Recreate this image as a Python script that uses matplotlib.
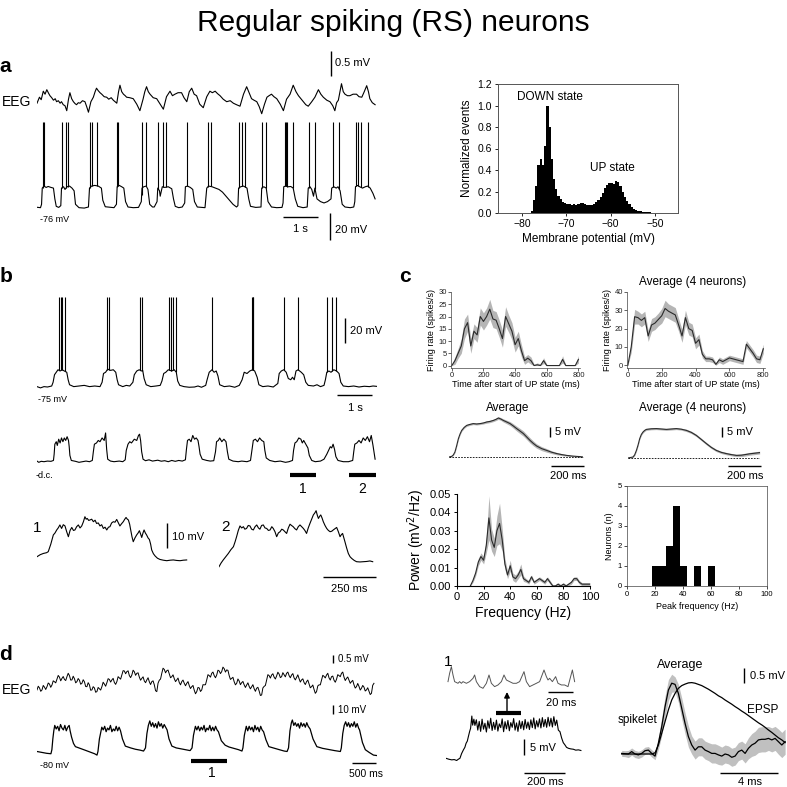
import numpy as np
import matplotlib
matplotlib.use('Agg')
import matplotlib.pyplot as plt

plt.rcParams['font.family'] = ['Liberation Sans', 'DejaVu Sans']
plt.rcParams['axes.linewidth'] = 0.6

W = H = 787

# ======================= DATA =======================
# --- a: membrane potential histogram (0.5 mV bins, left edges) ---
hist_a_left = np.arange(-78.0, -47.0, 0.5)
hist_a_vals = [0.02, 0.12, 0.25, 0.45, 0.50, 0.45, 0.62, 1.00, 0.80, 0.50,
               0.32, 0.22, 0.16, 0.13, 0.10, 0.09, 0.08, 0.08, 0.07, 0.08,
               0.07, 0.08, 0.09, 0.09, 0.08, 0.07, 0.07, 0.07, 0.08, 0.10,
               0.12, 0.15, 0.19, 0.23, 0.26, 0.28, 0.28, 0.27, 0.30, 0.29,
               0.25, 0.20, 0.15, 0.11, 0.08, 0.06, 0.04, 0.03, 0.02, 0.015,
               0.01, 0.008, 0.006, 0.005, 0.004, 0.003, 0.003, 0.002, 0.002, 0.001,
               0.001, 0.0]

# --- a: EEG (s, mV) ---
a_eeg = [(0.00, -0.03), (0.07, 0.09), (0.12, 0.04), (0.18, 0.21), (0.23, 0.15), (0.28, 0.24),
         (0.33, 0.17), (0.37, 0.12), (0.42, 0.08), (0.47, 0.03), (0.52, 0.06), (0.56, 0.0),
         (0.61, 0.02), (0.66, -0.03), (0.70, 0.0), (0.75, -0.06), (0.80, -0.08), (0.85, -0.18),
         (0.90, 0.05), (0.94, 0.18), (0.99, 0.06), (1.04, 0.0), (1.09, -0.04), (1.13, -0.06),
         (1.18, -0.02), (1.23, -0.03), (1.30, 0.02), (1.37, 0.0), (1.42, -0.1), (1.47, -0.21),
         (1.54, 0.0), (1.61, 0.09), (1.66, 0.2), (1.70, 0.27), (1.75, 0.22), (1.80, 0.18),
         (1.85, 0.15), (1.92, 0.1), (1.99, 0.09), (2.05, 0.05), (2.12, 0.08), (2.18, 0.03),
         (2.23, 0.0), (2.28, -0.03), (2.33, 0.2), (2.37, 0.33), (2.42, 0.2), (2.47, 0.15),
         (2.52, 0.12), (2.56, 0.09), (2.65, 0.08), (2.75, 0.06), (2.85, -0.05), (2.94, -0.18),
         (3.03, 0.05), (3.08, 0.2), (3.13, 0.3), (3.18, 0.2), (3.23, 0.15), (3.32, 0.08),
         (3.42, 0.06), (3.52, -0.05), (3.61, -0.15), (3.70, 0.1), (3.80, 0.21), (3.87, 0.12),
         (3.94, 0.15), (4.03, 0.18), (4.13, 0.18), (4.20, 0.08), (4.28, 0.0), (4.35, 0.2),
         (4.42, 0.27), (4.49, 0.15), (4.56, 0.12), (4.65, -0.05), (4.75, -0.12), (4.85, 0.1),
         (4.94, 0.21), (5.01, 0.18), (5.09, 0.21), (5.16, 0.16), (5.23, 0.12), (5.32, 0.05),
         (5.42, 0.0), (5.52, 0.02), (5.61, -0.03), (5.70, -0.06), (5.80, -0.09), (5.90, 0.15),
         (5.99, 0.3), (6.06, 0.18), (6.13, 0.06), (6.20, 0.03), (6.28, 0.0), (6.35, -0.1),
         (6.42, -0.24), (6.50, -0.05), (6.57, 0.09), (6.63, 0.12), (6.70, 0.15), (6.77, 0.1),
         (6.85, 0.06), (6.95, -0.05), (7.04, -0.18), (7.13, 0.05), (7.23, 0.15), (7.32, 0.33),
         (7.40, 0.2), (7.47, 0.12), (7.54, 0.06), (7.61, 0.0), (7.68, -0.06), (7.75, -0.09),
         (7.85, 0.0), (7.94, 0.09), (8.04, 0.24), (8.11, 0.15), (8.18, 0.09), (8.28, 0.03),
         (8.37, 0.0), (8.45, -0.08), (8.51, -0.18), (8.56, -0.02), (8.61, 0.03), (8.70, 0.36),
         (8.75, 0.2), (8.80, 0.15), (8.87, 0.12), (8.94, 0.12), (9.03, 0.15), (9.13, 0.15),
         (9.20, 0.1), (9.28, 0.09), (9.35, 0.2), (9.42, 0.32), (9.47, 0.2), (9.51, 0.06),
         (9.58, -0.02), (9.66, -0.06)]

# --- a: intracellular Vm (s, mV) and spikes ---
a_vm = [(0.00, -76.2), (0.10, -76.5), (0.13, -74), (0.15, -62), (0.20, -60.5), (0.26, -61.5),
        (0.32, -60.8), (0.40, -61.5), (0.47, -62), (0.51, -70), (0.55, -75.5), (0.62, -76.3),
        (0.68, -75), (0.70, -62), (0.76, -61), (0.80, -63), (0.86, -61), (0.93, -60.5),
        (1.00, -62), (1.06, -64), (1.10, -74), (1.20, -76.5), (1.35, -76.8), (1.47, -76),
        (1.50, -62), (1.56, -60.5), (1.65, -60), (1.75, -60.5), (1.84, -62), (1.88, -71),
        (1.95, -75.8), (2.10, -76.2), (2.20, -76.5), (2.27, -74), (2.29, -61), (2.35, -60),
        (2.42, -61), (2.48, -62), (2.53, -72), (2.60, -76), (2.75, -76.5), (2.90, -76.3),
        (2.98, -72), (3.00, -62), (3.05, -61), (3.12, -60.5), (3.17, -63), (3.22, -74),
        (3.30, -76), (3.35, -76), (3.43, -72), (3.45, -62), (3.50, -64), (3.52, -68),
        (3.58, -61), (3.65, -61.5), (3.75, -61), (3.85, -62.5), (3.90, -70), (3.95, -75.5),
        (4.05, -76.5), (4.15, -76), (4.22, -73), (4.24, -61), (4.30, -60.5), (4.38, -61.5),
        (4.45, -63), (4.50, -72), (4.58, -76), (4.70, -76.3), (4.80, -76.5), (4.85, -62),
        (4.90, -60.5), (5.00, -61), (5.10, -62), (5.20, -63), (5.30, -65), (5.40, -68),
        (5.50, -71), (5.60, -74), (5.70, -76), (5.74, -75), (5.76, -62), (5.82, -61),
        (5.90, -60.5), (6.00, -62), (6.05, -70), (6.10, -75.5), (6.25, -76.3), (6.40, -76),
        (6.42, -62), (6.48, -61), (6.55, -62), (6.60, -72), (6.70, -76), (6.85, -76.5),
        (7.00, -76.3), (7.03, -73), (7.05, -61), (7.10, -60.5), (7.18, -61), (7.25, -60.8),
        (7.32, -62), (7.38, -70), (7.45, -75.5), (7.60, -76.5), (7.72, -76), (7.75, -62),
        (7.80, -61), (7.85, -63), (7.90, -68), (7.94, -62), (8.00, -70), (8.10, -72),
        (8.20, -73), (8.30, -72), (8.40, -70), (8.42, -62), (8.48, -61), (8.55, -62),
        (8.60, -61), (8.66, -64), (8.72, -74), (8.80, -76), (8.95, -76.5), (9.05, -76),
        (9.08, -72), (9.10, -61), (9.16, -60), (9.22, -61), (9.30, -62), (9.38, -61),
        (9.45, -60.5), (9.52, -62), (9.60, -66), (9.66, -70)]
a_spike_t = [0.162, 0.21, 0.705, 0.829, 0.876, 1.514, 1.562, 1.705, 2.295, 2.324, 2.99, 3.105,
             3.448, 3.61, 3.676, 4.276, 4.876, 4.962, 5.781, 5.867, 5.943, 6.438, 6.533,
             7.086, 7.114, 7.152, 7.305, 7.771, 7.943, 8.448, 8.629, 9.114, 9.181, 9.248, 9.467]
a_spike_peak = -13.0

# --- b: intracellular Vm (s, mV) and spikes ---
b_vm = [(0.0, -75.5), (0.1, -76.5), (0.2, -75.5), (0.3, -75.8), (0.42, -75), (0.46, -72), (0.50, -66),
        (0.55, -64), (0.60, -62), (0.66, -63), (0.72, -62), (0.78, -63), (0.85, -64), (0.89, -70),
        (0.93, -74), (1.05, -75.5), (1.2, -75), (1.35, -74.5), (1.5, -75.5), (1.65, -75), (1.8, -75.5),
        (1.86, -72), (1.90, -65), (1.96, -64), (2.02, -61.5), (2.10, -62.5), (2.18, -62), (2.25, -64),
        (2.29, -70), (2.33, -74), (2.45, -75.5), (2.55, -74.5), (2.65, -75), (2.74, -72), (2.78, -66),
        (2.85, -63), (2.92, -62), (2.98, -63), (3.02, -62.5), (3.06, -69), (3.12, -74), (3.25, -75.5),
        (3.40, -75), (3.52, -74.5), (3.57, -71), (3.62, -65), (3.68, -64), (3.75, -62), (3.85, -63),
        (3.92, -62), (3.98, -64), (4.02, -71), (4.08, -74.5), (4.2, -75.5), (4.35, -76), (4.5, -75.8),
        (4.6, -75), (4.7, -76), (4.82, -74.5), (4.86, -70), (4.92, -64), (5.00, -62), (5.06, -64),
        (5.12, -63), (5.17, -67), (5.22, -74), (5.35, -75.5), (5.5, -75), (5.65, -76), (5.78, -74.5),
        (5.86, -70), (5.92, -64), (6.00, -65), (6.08, -63), (6.16, -62), (6.22, -63), (6.29, -68),
        (6.34, -74), (6.45, -75.5), (6.6, -75), (6.75, -75.8), (6.88, -73), (6.92, -65), (6.98, -63),
        (7.05, -62), (7.12, -64), (7.18, -69), (7.25, -70), (7.30, -68), (7.35, -70), (7.40, -63),
        (7.46, -62), (7.55, -64), (7.62, -66), (7.68, -72), (7.75, -74.5), (7.9, -75), (8.0, -74),
        (8.1, -75.5), (8.2, -74.5), (8.24, -70), (8.28, -64), (8.34, -63), (8.40, -64), (8.48, -62),
        (8.56, -63), (8.63, -65), (8.68, -72), (8.75, -75), (8.9, -75.5), (9.05, -75), (9.2, -75.8),
        (9.35, -75.2), (9.5, -75.5), (9.6, -75), (9.71, -75.3)]
b_spike_t = [0.63, 0.69, 0.71, 0.80, 2.0, 2.06, 2.94, 3.0, 3.77, 3.83, 3.89, 3.97, 5.0,
             6.14, 6.16, 6.17, 7.06, 7.46, 8.29, 8.43, 8.54]
b_spike_peak = -4.0

# --- b: hyperpolarized (-d.c.) trace (s, mV rel.) ---
b_dc = [(0.0, 0.5), (0.05, -0.5), (0.12, 0.3), (0.2, 0), (0.3, 0.5), (0.4, 0.3), (0.47, 1), (0.49, 6),
        (0.51, 14), (0.55, 16), (0.58, 13), (0.62, 18), (0.66, 15), (0.70, 19), (0.74, 16), (0.78, 19),
        (0.82, 17), (0.86, 20), (0.90, 17), (0.92, 12), (0.94, 5), (0.98, 1), (1.1, 0.3), (1.2, -0.5),
        (1.3, 0), (1.4, 0.5), (1.5, 0), (1.58, 1), (1.61, 8), (1.64, 14), (1.70, 15), (1.75, 17),
        (1.80, 16), (1.86, 19), (1.92, 17), (1.96, 23), (1.99, 10), (2.02, 2), (2.1, 0.5), (2.2, 0),
        (2.35, 0.5), (2.45, 0), (2.52, 1.5), (2.55, 9), (2.60, 14), (2.65, 16), (2.70, 15), (2.78, 18),
        (2.85, 17), (2.90, 21), (2.93, 22), (2.96, 17), (2.99, 8), (3.03, 2), (3.1, 0.8), (3.2, 1.5),
        (3.3, 0.5), (3.45, 1.2), (3.55, 0.4), (3.65, 0.8), (3.75, 0), (3.85, 1), (3.95, 0.3), (4.05, 1),
        (4.15, 0.5), (4.24, 1.5), (4.27, 10), (4.30, 17), (4.35, 18), (4.40, 16), (4.45, 21), (4.50, 18),
        (4.55, 19), (4.60, 17), (4.63, 12), (4.66, 6), (4.72, 2), (4.85, 1), (4.95, 0.5), (5.05, 0.8),
        (5.10, 8), (5.13, 16), (5.18, 17), (5.22, 19), (5.28, 16), (5.34, 18), (5.40, 16), (5.44, 8),
        (5.48, 2), (5.6, 0.5), (5.75, 0), (5.85, 0.5), (6.0, 0), (6.1, 1), (6.14, 9), (6.18, 17),
        (6.24, 18), (6.30, 16), (6.36, 19), (6.42, 17), (6.48, 16), (6.51, 9), (6.55, 3), (6.65, 1),
        (6.8, 0), (6.95, 0.5), (7.1, -0.5), (7.2, 0), (7.3, 1), (7.33, 9), (7.37, 15), (7.42, 16),
        (7.48, 19), (7.54, 18), (7.58, 15), (7.62, 17), (7.68, 14), (7.74, 11), (7.78, 5), (7.85, 1),
        (7.95, 0), (8.1, 0.5), (8.2, 2), (8.28, 6), (8.33, 9), (8.38, 12), (8.42, 11), (8.46, 14),
        (8.50, 10), (8.54, 4), (8.6, 1), (8.75, 0), (8.9, 0), (9.02, 1), (9.05, 8), (9.08, 14),
        (9.14, 15), (9.20, 17), (9.26, 15), (9.32, 19), (9.38, 17), (9.44, 20), (9.50, 16), (9.55, 21),
        (9.60, 13), (9.66, 2)]

# --- b: expanded UP states 1 and 2 (ms, mV rel.) ---
b_up1 = [(0, 0), (15, 0.8), (30, 1.3), (45, 1.6), (53, 2), (65, 5), (77, 8.7), (85, 9.5), (93, 10.7),
         (100, 11.5), (108, 12.7), (116, 11.3), (124, 12.8), (132, 12.3), (140, 10), (148, 8),
         (156, 10.5), (164, 11.7), (172, 10.5), (179, 10.7), (187, 12), (195, 12.7), (203, 11.5),
         (211, 12.3), (219, 14), (226, 16), (232, 15), (237, 15.3), (244, 14.5), (250, 14.7),
         (258, 15), (266, 14), (274, 14.6), (281, 13.3), (289, 13.5), (297, 12.3), (305, 12.8),
         (313, 11.3), (321, 11.8), (329, 10.7), (337, 11.8), (344, 12), (352, 13.5), (360, 14),
         (368, 13.8), (376, 14.9), (384, 13.5), (391, 12.3), (399, 13.2), (407, 14), (414, 15),
         (420, 15.7), (426, 15), (431, 14.7), (437, 13), (442, 10.7), (448, 8), (454, 6),
         (462, 7.5), (470, 8.7), (477, 9.5), (483, 10.4), (489, 9), (494, 7.7), (500, 9.5),
         (505, 10.7), (511, 9.5), (517, 8.7), (524, 7.5), (530, 6.9), (536, 5), (541, 2.7),
         (549, 1.2), (557, 0.3), (568, -0.6), (580, -1.1), (596, -1.4), (612, -1.6), (628, -1.4),
         (643, -1.3), (659, -1.5), (675, -1.6), (690, -1.4), (706, -1.3)]
b_up2 = [(0, 0), (10, 1.5), (20, 2.7), (32, 4), (44, 5.3), (56, 6.8), (68, 8), (76, 10), (83, 12),
         (91, 14.5), (99, 16.3), (107, 15.5), (115, 16), (122, 15), (130, 15.3), (138, 16.5),
         (146, 16.3), (154, 15), (162, 14.7), (170, 16), (178, 16.7), (186, 15.5), (193, 15),
         (201, 16.5), (209, 16.7), (217, 15.5), (225, 15.3), (233, 14.5), (241, 14.7), (249, 16),
         (256, 15.3), (264, 14), (272, 12), (280, 13.5), (288, 14), (296, 15), (303, 14.7),
         (311, 14), (319, 13.3), (327, 15.5), (335, 17), (342, 16.5), (350, 16), (358, 15.2),
         (366, 14.7), (374, 16), (382, 16.7), (390, 16), (398, 15.3), (405, 14.5), (413, 13.3),
         (421, 15.5), (429, 17.3), (437, 19), (445, 20.7), (452, 21.5), (458, 22.4), (464, 20.5),
         (469, 19.3), (475, 20.2), (480, 20.7), (486, 19.5), (492, 18), (500, 16.5), (508, 15.3),
         (516, 14.5), (524, 14), (532, 14.2), (539, 14.7), (547, 15.2), (555, 15.7), (563, 14),
         (571, 12), (577, 12.8), (583, 13.3), (589, 11.5), (594, 10), (602, 7.5), (610, 5.3),
         (618, 4), (626, 3.3), (638, 2.5), (649, 2), (665, 1.9), (681, 2), (697, 2.1), (712, 2.3),
         (725, 2)]

# --- c: firing rate vs time after UP onset (ms, spikes/s, s.e.m.) ---
fr_time = np.arange(0, 801, 20)
fr_single = [0, 2, 5, 8, 15, 17.5, 8, 14, 12.5, 20, 18, 20, 23, 19, 18.5, 15, 11, 20, 17, 14,
             8.5, 11, 6, 2, 3, 2, 0, 0.3, 0, 2, 0, 0, 0, 0, 0, 2.5, 0, 0, 0, 0, 2.5]
fr_single_sem = [0.5, 1.5, 2, 3, 4, 3.5, 3, 3, 3, 3.5, 3.5, 3.5, 4, 3.5, 3.5, 3.5, 3.5, 4, 3.5, 3.5,
                 3, 3, 2.5, 1.5, 1.5, 1.5, 0.5, 0.8, 0.5, 1.2, 0.5, 0.3, 0.3, 0.3, 0.3, 1.5, 0.3, 0.3,
                 0.3, 0.3, 1.5]
fr_avg = [0, 10, 26.5, 26, 24.5, 26, 16, 22, 23, 25, 27, 31, 29.5, 28.5, 27.5, 22, 16, 26, 20, 19,
          12, 14, 6, 3.5, 3.5, 3, 0.5, 3, 2, 3, 4, 3.5, 3, 2.5, 2, 11.5, 9, 6.5, 3.5, 3, 9]
fr_avg_sem = [0.5, 3, 4, 3.5, 3.5, 3.5, 3, 3.5, 3.5, 3.5, 4, 4.5, 4, 4, 4, 3.5, 3.5, 4, 3.5, 3.5,
              3, 3, 2, 1.5, 1.5, 1.5, 1, 1.5, 1.5, 1.5, 1.5, 1.5, 1.5, 1.5, 1.5, 2, 2, 2, 2, 2, 2.5]

# --- c: average UP-state Vm (ms, mV above DOWN, s.e.m.) ---
avg_up_single = [(0, 0, 0.1), (16, 0.3, 0.2), (26, 1, 0.3), (36, 2.5, 0.4), (46, 5.5, 0.5), (57, 9.2, 0.5),
                 (67, 11.5, 0.5), (77, 13.3, 0.5), (92, 14.8, 0.5), (107, 15.8, 0.5), (127, 16.3, 0.5),
                 (147, 16.7, 0.5), (167, 16.5, 0.5), (188, 16.7, 0.5), (208, 17, 0.5), (228, 17.5, 0.6),
                 (249, 17.8, 0.6), (269, 18.3, 0.6), (284, 18.8, 0.6), (299, 19.5, 0.7), (314, 19, 0.7),
                 (329, 18.3, 0.8), (350, 17.5, 0.9), (370, 16.7, 1.0), (390, 15.5, 1.1), (410, 14.2, 1.2),
                 (430, 13, 1.3), (451, 11.7, 1.3), (471, 10, 1.3), (491, 8.3, 1.3), (511, 6.8, 1.2),
                 (531, 5.5, 1.1), (561, 4.2, 1.0), (592, 3.3, 0.9), (622, 2.4, 0.7), (653, 1.7, 0.6),
                 (683, 1.2, 0.5), (713, 0.8, 0.4), (744, 0.5, 0.3), (774, 0.3, 0.3), (794, 0.2, 0.2),
                 (814, 0, 0.2)]
avg_up_4 = [(0, 0, 0.1), (30, 0.5, 0.3), (40, 1.5, 0.4), (51, 3.8, 0.5), (61, 6.5, 0.5), (71, 9.7, 0.5),
            (81, 11.8, 0.5), (91, 13, 0.5), (101, 13.8, 0.5), (111, 14.3, 0.5), (141, 14.6, 0.5),
            (172, 14.7, 0.5), (202, 14.5, 0.5), (232, 14.3, 0.5), (263, 14.5, 0.5), (293, 14.7, 0.5),
            (323, 14.4, 0.5), (354, 13.8, 0.6), (384, 12.8, 0.6), (414, 11.3, 0.6), (444, 9.3, 0.6),
            (475, 7.2, 0.6), (505, 5.3, 0.6), (535, 3.8, 0.6), (566, 2.8, 0.6), (596, 2.2, 0.6),
            (626, 1.7, 0.6), (657, 1.3, 0.6), (687, 1.4, 0.7), (717, 1.8, 0.7), (738, 2.1, 0.7),
            (758, 2.3, 0.7), (778, 2.5, 0.7), (798, 2.7, 0.7)]

# --- c: power spectrum (Hz, mV^2/Hz, s.e.m.) ---
pw_freq = np.arange(10, 101, 2)
pw_mean = [0.0, 0.003, 0.007, 0.013, 0.016, 0.014, 0.022, 0.037, 0.025, 0.021, 0.030, 0.034, 0.025,
           0.012, 0.006, 0.011, 0.005, 0.004, 0.006, 0.009, 0.004, 0.003, 0.002, 0.005, 0.002, 0.003,
           0.004, 0.003, 0.002, 0.004, 0.002, 0.0, 0.0, 0.001, 0.0, 0.001, 0.0, 0.001, 0.002, 0.004,
           0.004, 0.002, 0.001, 0.001, 0.001, 0.001]
pw_sem = [0.0005, 0.001, 0.0015, 0.002, 0.002, 0.002, 0.004, 0.012, 0.006, 0.005, 0.008, 0.011, 0.006,
          0.003, 0.002, 0.003, 0.002, 0.002, 0.002, 0.003, 0.0015, 0.001, 0.001, 0.001, 0.001, 0.001,
          0.001, 0.001, 0.001, 0.001, 0.001, 0.0008, 0.0008, 0.0008, 0.0008, 0.0008, 0.0008, 0.0008,
          0.001, 0.001, 0.001, 0.001, 0.0008, 0.0008, 0.0008, 0.0008]

# --- c: peak frequency histogram ---
peak_freq_centers = [20, 25, 30, 35, 40, 50, 60]
peak_freq_counts = [1, 1, 2, 4, 1, 1, 1]

# --- d: EEG (regular 0.026 s sampling, mV) ---
d_eeg_dt = 0.026
d_eeg = [-0.43, -0.19, -0.3, -0.52, -0.43, -0.14, -0.25, -0.4, -0.22, 0.02,
         -0.05, -0.26, -0.11, 0.16, 0.1, 0.03, 0.26, 0.51, 0.4, 0.16,
         0.32, 0.44, 0.25, 0.18, 0.43, 0.65, 0.5, 0.21, 0.22, 0.46,
         0.3, 0.03, 0.11, 0.31, 0.2, -0.06, 0.0, 0.23, 0.1, -0.21,
         -0.22, 0.04, -0.1, -0.45, -0.43, -0.22, -0.3, -0.58, -0.54, -0.27,
         -0.35, -0.44, -0.22, 0.07, -0.05, -0.19, 0.04, 0.3, 0.25, 0.08,
         0.22, 0.32, 0.05, -0.07, 0.11, 0.43, 0.35, 0.27, 0.54, 0.82,
         0.8, 0.62, 0.76, 0.81, 0.5, 0.37, 0.54, 0.85, 0.75, 0.52,
         0.65, 0.68, 0.4, 0.2, 0.32, 0.42, 0.15, 0.04, 0.22, 0.36,
         0.1, -0.08, 0.11, 0.16, -0.1, -0.48, -0.54, 0.01, 0.2, 0.28,
         0.65, 0.98, 0.9, 0.68, 0.82, 0.86, 0.6, 0.36, 0.43, 0.55,
         0.3, 0.11, 0.22, 0.34, 0.05, -0.1, 0.11, 0.21, 0.0, -0.16,
         0.0, 0.11, -0.15, -0.34, -0.22, -0.14, -0.45, -0.68, -0.54, -0.27,
         -0.3, -0.53, -0.43, -0.09, -0.1, -0.09, 0.22, 0.56, 0.5, 0.4,
         0.65, 0.73, 0.5, 0.36, 0.54, 0.85, 0.8, 0.63, 0.76, 1.05,
         0.95, 0.73, 0.87, 0.84, 0.5, 0.25, 0.32, 0.39, 0.1, -0.1,
         0.0, 0.28, 0.15, -0.09, 0.04, 0.12, -0.1, -0.27, -0.11, 0.03,
         -0.2, -0.36, -0.22, -0.09, -0.35, -0.52, -0.32, -0.26, -0.5, -0.79,
         -0.76, -0.3, -0.2, -0.14, 0.22, 0.56, 0.5, 0.34, 0.54, 0.62,
         0.4, 0.28, 0.48, 0.72, 0.6, 0.37, 0.43, 0.69, 0.55, 0.42,
         0.65, 0.73, 0.5, 0.36, 0.54, 0.63, 0.35, 0.22, 0.39, 0.55,
         0.3, 0.08, 0.22, 0.29, 0.05, -0.08, 0.11, 0.21, -0.05, -0.29,
         -0.22, -0.11, -0.4, -0.65, -0.54, -0.17, -0.1, -0.1, 0.22, 0.52,
         0.45, 0.35, 0.54, 0.65, 0.35, 0.21, 0.43, 0.47, 0.2, 0.07,
         0.26, 0.56, 0.5, 0.43, 0.65, 0.73, 0.4, 0.18, 0.32, 0.41,
         0.2, 0.0, 0.11, 0.19, -0.1, -0.31, -0.22, -0.01, -0.2, -0.44,
         -0.32, -0.14, -0.25, -0.5, -0.43, -0.29, -0.5, -0.73, -0.65, -0.13,
         0.0]

# --- d: intracellular Vm (s, mV) ---
d_vm = [(0.00, -78.0), (0.05, -78.5), (0.10, -79.0), (0.15, -79.5), (0.20, -80.0), (0.25, -80.3),
        (0.29, -80.5), (0.31, -76), (0.33, -64), (0.35, -55), (0.37, -49), (0.40, -53), (0.43, -50),
        (0.46, -55), (0.49, -48), (0.52, -52), (0.55, -54), (0.58, -49), (0.61, -55), (0.64, -51),
        (0.67, -49), (0.69, -55), (0.72, -62), (0.76, -69), (0.80, -72.6), (0.90, -74.5),
        (1.00, -76.5), (1.10, -78.5), (1.20, -80.5), (1.25, -82), (1.27, -78), (1.30, -64),
        (1.33, -56), (1.35, -51), (1.38, -54), (1.41, -50), (1.44, -56), (1.47, -52), (1.50, -54),
        (1.53, -49), (1.56, -56), (1.59, -53), (1.62, -55), (1.65, -50), (1.68, -55), (1.71, -51),
        (1.74, -55), (1.78, -64), (1.84, -72), (1.95, -74), (2.05, -75.5), (2.15, -76.5),
        (2.22, -77.5), (2.26, -74), (2.29, -58), (2.32, -49), (2.35, -44), (2.38, -50), (2.41, -46),
        (2.44, -51), (2.47, -47), (2.50, -52), (2.53, -45), (2.56, -50), (2.59, -47), (2.62, -52),
        (2.65, -48), (2.68, -51), (2.71, -54), (2.75, -64), (2.81, -72), (2.90, -74), (3.00, -75),
        (3.10, -76), (3.19, -77), (3.23, -74), (3.26, -60), (3.30, -50), (3.33, -54), (3.36, -50),
        (3.39, -55), (3.42, -51), (3.45, -54), (3.48, -49), (3.51, -56), (3.54, -52), (3.57, -54),
        (3.60, -49), (3.63, -55), (3.66, -51), (3.69, -55), (3.72, -50), (3.75, -54), (3.78, -56),
        (3.84, -66), (3.92, -71), (4.00, -73), (4.10, -74.5), (4.20, -76), (4.27, -77.5),
        (4.29, -74), (4.32, -60), (4.36, -50), (4.39, -55), (4.42, -50), (4.45, -54), (4.48, -51),
        (4.51, -56), (4.54, -49), (4.57, -54), (4.60, -51), (4.63, -56), (4.66, -50), (4.69, -54),
        (4.72, -56), (4.77, -65), (4.83, -72.6), (4.95, -74.5), (5.05, -76), (5.15, -77.5),
        (5.21, -78), (5.24, -74), (5.27, -55), (5.30, -46), (5.32, -43), (5.35, -49), (5.38, -46),
        (5.41, -50), (5.44, -47), (5.47, -52), (5.50, -46), (5.53, -50), (5.56, -47), (5.59, -51),
        (5.62, -46), (5.65, -50), (5.69, -53), (5.75, -64), (5.83, -72.6), (5.95, -74.5),
        (6.10, -76), (6.20, -77), (6.32, -78), (6.34, -74), (6.37, -58), (6.40, -49), (6.43, -45),
        (6.46, -50), (6.49, -46), (6.52, -51), (6.55, -47), (6.58, -50), (6.61, -45), (6.64, -51),
        (6.67, -47), (6.70, -52), (6.72, -54), (6.78, -68), (6.84, -76), (6.92, -79), (7.01, -82),
        (7.08, -82.5)]

# --- d: expanded UP state 1 (ms, mV rel.) ---
d_up_rise = [(0, 0), (14, -0.3), (28, -0.5), (40, -0.4), (52, -0.7), (60, -0.3), (68, 0), (76, 1.5),
             (85, 2.7), (92, 3.5), (98, 4.8), (104, 5.5), (109, 6.9), (115, 8.5), (120, 9.6),
             (126, 13.5), (130, 10.6), (136, 12.5)]
d_up_plateau_t0 = 141
d_up_plateau_dt = 7
d_up_plateau = [10.5, 12.3, 9.0, 11.8, 8.6, 12.5, 9.3, 11.2, 8.4, 12.0,
                9.6, 12.8, 8.9, 11.5, 9.2, 12.2, 8.7, 11.0, 9.8, 12.6,
                8.5, 11.7, 9.4, 12.1, 8.8, 11.4, 9.9, 12.7, 9.0, 11.3,
                8.6, 12.0, 9.5, 11.8, 9.1, 12.4, 9.6, 11.6, 9.2, 12.3,
                9.8, 12.9, 9.4, 12.0, 10.0, 12.6, 9.7, 13.0, 10.1, 12.4,
                9.9, 13.1, 10.3, 12.8, 10.0, 13.3, 10.5, 12.2]
d_up_fall = [(548, 9), (556, 8.5), (564, 6.5), (572, 5), (580, 4.3), (588, 3.5), (597, 3.2),
             (609, 3.0), (621, 2.9), (633, 2.6), (646, 2.7), (658, 2.5)]
# detail of the fast oscillation (ms, mV rel.)
d_fast = [(0, 0.5), (1.3, 3), (2.7, 5), (4, 2.5), (5.3, 0.5), (8, 0), (9.3, 0.5), (10.7, 0), (12, 0.5),
          (14.7, 0), (17.3, 0.5), (20, 1.5), (21.3, 2.5), (22.7, 0.5), (25.3, -1), (28, -1.5),
          (30.7, 0), (32.8, 2.5), (34.7, 0), (37.3, -1), (40, -0.5), (42.7, 0.5), (44.8, 2.5),
          (46.7, 1), (49.3, 0.5), (52, 0), (54.7, 0), (57.3, 0.5), (60.8, 3.5), (62.7, 0.5),
          (65.3, -1), (68, -0.5), (70.7, 0), (73.3, 0.5), (76.8, 4), (78.7, 2), (80, 1), (81.3, 1.5),
          (83.5, 0.5), (86.1, 2), (88, 0), (90.7, -0.5), (93.3, -0.5), (96, -1), (99.5, 4),
          (101.3, 0.5)]

# --- d: average spikelet vs EPSP (0.23 ms sampling, mV) ---
avg_dt = 0.23
spikelet = [0.02, 0.01, 0.0, 0.08, 0.0, -0.03, 0.02, 0.11, 0.13, 0.02,
            -0.07, 0.36, 0.91, 1.58, 2.13, 2.36, 2.32, 2.02, 1.52, 1.02,
            0.58, 0.30, 0.13, 0.24, 0.24, 0.13, 0.08, 0.02, 0.02, -0.03,
            -0.07, 0.0, -0.03, -0.11, -0.07, 0.08, 0.13, 0.02, 0.19, 0.30,
            0.36, 0.47, 0.49, 0.49, 0.52, 0.47, 0.52, 0.41, 0.30, 0.41]
spikelet_sem = [0.1, 0.1, 0.12, 0.12, 0.12, 0.12, 0.12, 0.12, 0.12, 0.12,
                0.12, 0.2, 0.3, 0.35, 0.35, 0.3, 0.25, 0.3, 0.35, 0.35,
                0.35, 0.3, 0.3, 0.3, 0.3, 0.3, 0.3, 0.32, 0.32, 0.32,
                0.3, 0.3, 0.3, 0.3, 0.3, 0.3, 0.3, 0.32, 0.35, 0.38,
                0.4, 0.42, 0.42, 0.42, 0.4, 0.4, 0.4, 0.42, 0.42, 0.42]
epsp = [0, 0, 0, 0, 0, 0, 0, 0, 0, 0,
        0.04, 0.3, 0.69, 1.08, 1.47, 1.8, 2.02, 2.19, 2.28, 2.33,
        2.37, 2.38, 2.36, 2.32, 2.28, 2.22, 2.16, 2.09, 2.02, 1.94,
        1.88, 1.8, 1.73, 1.66, 1.58, 1.51, 1.43, 1.36, 1.28, 1.2,
        1.12, 1.04, 0.97, 0.89, 0.8, 0.72, 0.63, 0.54, 0.47, 0.38]

# ======================= FIGURE =======================
fig = plt.figure(figsize=(7.87, 7.87), dpi=100)


def T(x, y, s, size, ha='left', va='center', **kw):
    fig.text(x / W, 1 - y / H, s, fontsize=size, ha=ha, va=va, **kw)


def box(x0, y0, x1, y1):
    return fig.add_axes([x0 / W, 1 - y1 / H, (x1 - x0) / W, (y1 - y0) / H])


def tax(x0, x1, y0, y1, xlim, ylim):
    ax = box(x0, y0, x1, y1)
    ax.set_xlim(*xlim)
    ax.set_ylim(*ylim)
    ax.set_axis_off()
    return ax


def P(ax, x, y):
    return ax.transData.inverted().transform((x, H - y))


def hbar(ax, x, y, length, lw=1.0):
    x0, y0 = P(ax, x, y)
    ax.plot([x0, x0 + length], [y0, y0], color='k', lw=lw, clip_on=False, solid_capstyle='butt')


def vbar(ax, x, y, length, lw=1.0):
    x0, y0 = P(ax, x, y)
    ax.plot([x0, x0], [y0, y0 - length], color='k', lw=lw, clip_on=False, solid_capstyle='butt')


def window(ax, y, t0, t1, lw=3):
    _, yy = P(ax, 0, y)
    ax.plot([t0, t1], [yy, yy], color='k', lw=lw, clip_on=False, solid_capstyle='butt')


def pairs(lst):
    arr = np.array(lst, dtype=float)
    return [arr[:, i] for i in range(arr.shape[1])]


TR = dict(color='k', lw=0.8)

# Title
T(393, 23, 'Regular spiking (RS) neurons', 21.5, ha='center')

# ---------------- panel a ----------------
T(5, 67, 'a', 15, ha='center', weight='bold')
T(2, 102, 'EEG', 10)
ax = tax(37, 377, 70, 130, (0, 340 / 35), (-(130 - 101.7) / 50, (101.7 - 70) / 50))
t, v = pairs(a_eeg)
ax.plot(t, v, **TR)
vbar(ax, 331, 51, 0.5)
T(335, 63, '0.5 mV', 8)

ax = tax(37, 377, 115, 245, (0, 340 / 35), (-76 - (245 - 207) / 1.35, -76 + (207 - 115) / 1.35))
t, v = pairs(a_vm)
ax.plot(t, v, **TR)
ax.vlines(a_spike_t, np.interp(a_spike_t, t, v), a_spike_peak, color='k', lw=0.8)
T(40, 219, '-76 mV', 6.5)
hbar(ax, 283, 217, 1.0)
T(300, 229, '1 s', 8, ha='center')
vbar(ax, 330, 213, 20)
T(335, 230, '20 mV', 8)

axh = box(498, 84, 678, 213)
axh.bar(hist_a_left, hist_a_vals, width=0.5, align='edge', color='k', lw=0)
axh.set_xlim(-85.4, -44.8)
axh.set_ylim(0, 1.2)
axh.set_xticks([-80, -70, -60, -50])
axh.set_yticks(np.arange(0, 1.21, 0.2))
axh.set_yticklabels([f'{x:.1f}' for x in np.arange(0, 1.21, 0.2)])
axh.tick_params(labelsize=7.5, length=2.5, width=0.6, pad=2)
for s in axh.spines.values():
    s.set_linewidth(0.7)
    s.set_color('#555555')
axh.set_ylabel('Normalized events', fontsize=8.5, labelpad=3)
axh.set_xlabel('Membrane potential (mV)', fontsize=8.5, labelpad=3)
axh.text(-73.7, 1.08, 'DOWN state', fontsize=8.5, ha='center', va='center')
axh.text(-59.5, 0.42, 'UP state', fontsize=8.5, ha='center', va='center')

# ---------------- panel b ----------------
T(6, 276, 'b', 15, ha='center', weight='bold')
ax = tax(37, 377, 290, 400, (0, 340 / 35), (-75 - 14 / 1.25, -75 + 96 / 1.25))
t, v = pairs(b_vm)
ax.plot(t, v, **TR)
ax.vlines(b_spike_t, np.interp(b_spike_t, t, v), b_spike_peak, color='k', lw=0.8)
vbar(ax, 345, 318, 20)
T(350, 331, '20 mV', 8)
T(38, 399, '-75 mV', 6.5)
hbar(ax, 337, 395, 1.0)
T(355, 408, '1 s', 8, ha='center')

ax = tax(37, 377, 425, 470, (0, 340 / 35), (-(470 - 461.7) / 1.25, (461.7 - 425) / 1.25))
t, v = pairs(b_dc)
ax.plot(t, v, **TR)
T(36, 475, '-d.c.', 6.5)
window(ax, 475, 7.23, 7.97)
window(ax, 475, 8.91, 9.69)
T(303, 489, '1', 10, ha='center')
T(362, 489, '2', 10, ha='center')

ax = tax(37, 190, 505, 565, (0, (190 - 37) / 0.212), (-(565 - 556.7) / 2.5, (556.7 - 505) / 2.5))
t, v = pairs(b_up1)
ax.plot(t, v, **TR)
T(33, 528, '1', 11)
vbar(ax, 167, 523, 10)
T(172, 537, '10 mV', 8)

ax = tax(219, 375, 505, 570, (0, (375 - 219) / 0.212), (-(570 - 566.7) / 2.5, (566.7 - 505) / 2.5))
t, v = pairs(b_up2)
ax.plot(t, v, **TR)
T(221, 527, '2', 11)
hbar(ax, 323, 577, 250)
T(349, 589, '250 ms', 8, ha='center')

# ---------------- panel c ----------------
T(405, 276, 'c', 15, ha='center', weight='bold')


def fr_axes(x0, x1, ylim, yticks, fr, sem):
    a = box(x0, 292, x1, 368)
    fr = np.array(fr)
    sem = np.array(sem)
    a.fill_between(fr_time, np.maximum(fr - sem, 0), fr + sem, color='#b5b5b5', lw=0)
    a.plot(fr_time, fr, color='#2a2a2a', lw=0.8)
    a.set_xlim(-5, 810)
    a.set_ylim(*ylim)
    a.set_xticks([0, 200, 400, 600, 800])
    a.set_yticks(yticks)
    for s in ['top', 'right']:
        a.spines[s].set_visible(False)
    for s in ['left', 'bottom']:
        a.spines[s].set_linewidth(0.5)
        a.spines[s].set_color('#444444')
    a.tick_params(labelsize=5.5, length=2, width=0.5, pad=1, colors='#222222')
    a.set_ylabel('Firing rate (spikes/s)', fontsize=6.5, labelpad=2)
    a.set_xlabel('Time after start of UP state (ms)', fontsize=6.5, labelpad=0.5)
    return a


fr_axes(451, 580, (-1, 30), [0, 5, 10, 15, 20, 25, 30], fr_single, fr_single_sem)
fr_axes(627, 765, (-1.5, 40), [0, 10, 20, 30, 40], fr_avg, fr_avg_sem)
T(693, 282, 'Average (4 neurons)', 8.5, ha='center')


def avg_trace(x0, x1, y0, y1, base_y, data):
    a = tax(x0, x1, y0, y1, (0, (x1 - x0) / 0.165), (-(y1 - base_y) / 2, (base_y - y0) / 2))
    t, v, e = pairs(data)
    a.fill_between(t, v - e, v + e, color='#b5b5b5', lw=0)
    a.plot(t, v, color='#2a2a2a', lw=0.8)
    a.plot([0, t[-1]], [0, 0], color='k', lw=0.6, ls=(0, (2, 1.5)))
    return a


ax = avg_trace(449, 583, 405, 460, 457, avg_up_single)
T(508, 408, 'Average', 8.5, ha='center')
vbar(ax, 550, 427, 5)
T(555, 432, '5 mV', 8)
hbar(ax, 551, 466, 200)
T(568, 476, '200 ms', 8, ha='center')

ax = avg_trace(628, 760, 405, 461, 458, avg_up_4)
T(693, 408, 'Average (4 neurons)', 8.5, ha='center')
vbar(ax, 722, 427, 5)
T(727, 432, '5 mV', 8)
hbar(ax, 728, 466, 200)
T(745, 476, '200 ms', 8, ha='center')

axp = box(457, 494, 590, 586)
pm = np.array(pw_mean)
ps = np.array(pw_sem)
axp.fill_between(pw_freq, np.maximum(pm - ps, 0), pm + ps, color='#b5b5b5', lw=0)
axp.plot(pw_freq, pm, color='#2a2a2a', lw=0.8)
axp.set_xlim(0, 100)
axp.set_ylim(0, 0.05)
axp.set_xticks([0, 20, 40, 60, 80, 100])
axp.set_yticks([0, 0.01, 0.02, 0.03, 0.04, 0.05])
axp.set_yticklabels(['0.00', '0.01', '0.02', '0.03', '0.04', '0.05'])
for s in ['top', 'right']:
    axp.spines[s].set_visible(False)
for s in ['left', 'bottom']:
    axp.spines[s].set_linewidth(0.8)
axp.tick_params(labelsize=8, length=2.5, width=0.7, pad=1.5)
axp.set_ylabel('Power (mV$^2$/Hz)', fontsize=10, labelpad=2)
axp.set_xlabel('Frequency (Hz)', fontsize=10, labelpad=3)

axq = box(627, 486, 767, 586)
axq.bar(peak_freq_centers, peak_freq_counts, width=5, color='k', lw=0)
axq.set_xlim(0, 100)
axq.set_ylim(0, 5)
axq.set_xticks([0, 20, 40, 60, 80, 100])
axq.set_yticks([0, 1, 2, 3, 4, 5])
for s in axq.spines.values():
    s.set_linewidth(0.5)
    s.set_color('#444444')
axq.tick_params(labelsize=5.5, length=2, width=0.5, pad=1.5)
axq.set_ylabel('Neurons (n)', fontsize=6.5, labelpad=3)
axq.set_xlabel('Peak frequency (Hz)', fontsize=6.5, labelpad=3)

# ---------------- panel d ----------------
T(5, 655, 'd', 15, ha='center', weight='bold')
T(2, 690, 'EEG', 10)
ax = tax(37, 377, 665, 702, (0, 340 / 48), (-(702 - 683.3) / 15.4, (683.3 - 665) / 15.4))
ax.plot(np.arange(len(d_eeg)) * d_eeg_dt, d_eeg, color='k', lw=0.7)
vbar(ax, 333, 655, 0.5)
T(338, 659, '0.5 mV', 7)

ax = tax(37, 377, 712, 770, (0, 340 / 48), (-80 - (770 - 753.3) / 0.9, -80 + (753.3 - 712) / 0.9))
t, v = pairs(d_vm)
ax.plot(t, v, color='k', lw=0.9)
vbar(ax, 333, 705, 10)
T(338, 710, '10 mV', 7)
T(40, 766, '-80 mV', 6.5)
window(ax, 761, 3.21, 3.96)
T(212, 773, '1', 10, ha='center')
hbar(ax, 352, 763, 0.5)
T(366, 774, '500 ms', 7.5, ha='center')

T(444, 662, '1', 11)
ax = tax(445, 580, 660, 695, ((445 - 448) / 1.25, (580 - 448) / 1.25),
         (-(695 - 683.3) / 3.33, (683.3 - 660) / 3.33))
t, v = pairs(d_fast)
ax.plot(t, v, color='#555555', lw=0.7)
hbar(ax, 548, 692, 20)
T(561, 703, '20 ms', 8, ha='center')

ax = tax(446, 582, 715, 768, (0, (582 - 446) / 0.205), (-(768 - 758.3) / 3.13, (758.3 - 715) / 3.13))
tr, vr = pairs(d_up_rise)
tp = d_up_plateau_t0 + d_up_plateau_dt * np.arange(len(d_up_plateau))
tf, vf = pairs(d_up_fall)
ax.plot(np.concatenate([tr, tp, tf]), np.concatenate([vr, d_up_plateau, vf]), **TR)
window(ax, 713, 244, 366)
ax.annotate('', xy=(507 / W, 1 - 692 / H), xycoords='figure fraction',
            xytext=(507 / W, 1 - 713 / H), textcoords='figure fraction',
            arrowprops=dict(arrowstyle='-|>', color='k', lw=1, mutation_scale=8,
                            shrinkA=0, shrinkB=0))
vbar(ax, 524, 739, 5)
T(530, 748, '5 mV', 8)
hbar(ax, 524, 773, 200)
T(545, 782, '200 ms', 8, ha='center')

ax = tax(620, 787, 670, 770, ((620 - 621.7) / 14.5, (787 - 621.7) / 14.5), (-(770 - 754) / 30, (754 - 670) / 30))
ta = np.arange(len(spikelet)) * avg_dt
sp = np.array(spikelet)
se = np.array(spikelet_sem)
ax.fill_between(ta, sp - se, sp + se, color='#c0c0c0', lw=0)
ax.plot(ta, sp, color='k', lw=0.9)
ax.plot(ta, epsp, color='k', lw=0.9)
T(680, 665, 'Average', 9, ha='center')
vbar(ax, 744, 668, 0.5)
T(750, 676, '0.5 mV', 8)
T(763, 710, 'EPSP', 8.5, ha='center')
T(638, 720, 'spikelet', 8.5, ha='center')
hbar(ax, 720, 773, 4)
T(750, 782, '4 ms', 8, ha='center')

fig.savefig('out.png', dpi=100)
